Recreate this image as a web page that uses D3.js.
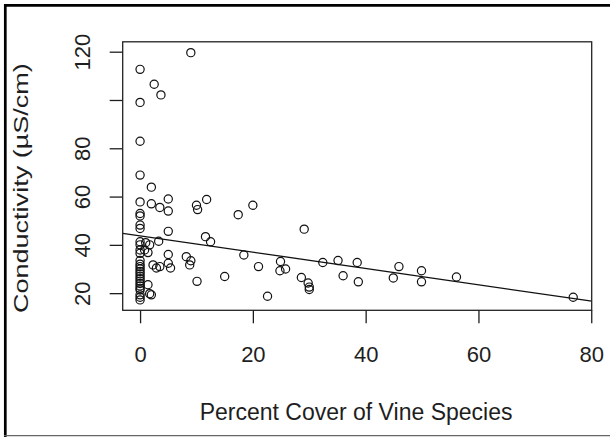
<!DOCTYPE html>
<html>
<head>
<meta charset="utf-8">
<script src="https://cdn.jsdelivr.net/npm/d3@7"></script>
<style>
	body { margin: 0; background: #fff; }
	figure { margin: 0; }
	text { font-family: "Liberation Sans", Arial, sans-serif; fill: #1e1e1e; }
</style>
</head>
<body>
<figure id="vines"></figure>
<script>
// percent cover of vines (x) and conductivity (y)
var vineCover = [
	0, 0, 0, 0, 0, 0, 0, 0, 0, 0, 0, 0, 0, 0,
	0, 0, 0, 0, 0, 0, 0, 0, 0, 0, 0, 0, 0, 0, 0,
	2.5, 3.7, 9, 2, 2, 3.5, 5, 5, 10, 10.2, 11.8, 17.4, 20,
	5, 1, 1.7, 3.3, 0.8, 1.4, 5, 2.3, 2.9, 3.5, 5, 5.4,
	8.2, 9, 8.8, 1.4, 1.7, 2, 10.1, 11.6, 12.5, 15, 18.4, 21, 22.6,
	24.9, 24.8, 25.8, 28.6, 29.8, 30, 30, 29.1,
	32.4, 35.1, 36, 38.5, 38.7, 44.9, 45.9, 49.9, 49.9, 56.1, 76.8
];
var conductivity = [
	112.7, 99, 82.9, 68.9, 57.8, 53, 52, 48.2, 46.8, 41.3, 40, 37.9, 36.5, 33.5,
	32, 31, 30, 29, 28, 27, 26, 25, 24, 23, 22, 21.3, 19.3, 18.3, 17.2,
	106.5, 102.1, 119.6, 63.9, 57, 55.5, 54, 59, 56.4, 54.6, 58.8, 52.5, 56.4,
	45.6, 40.9, 40, 41.5, 37.9, 36.8, 36, 31.7, 30.4, 31, 32.4, 30.4,
	35.1, 33.4, 31.7, 23.5, 19.8, 19.3, 24.9, 43.4, 41.3, 26.9, 35.8, 31, 18.7,
	33.1, 29.3, 30, 26.5, 24.2, 22.5, 21.5, 46.5,
	32.7, 33.5, 27.2, 32.7, 24.7, 26.3, 31, 29.3, 24.7, 26.7, 18.3
];
var xTicks = [ 0, 20, 40, 60, 80 ];
var yTicks = [ 20, 40, 60, 80, 100, 120 ];
var yTickLabels = [ "20", "40", "60", "80", "", "120" ]; // 100 gets dropped, like R does
var fitLine = [ 43.75, -0.338 ]; // intercept, slope of the straight line fit

var dimensions = {
	width: 610,
	height: 437,
	margin: {
		top: 41.8,
		right: 18.3,
		bottom: 126.7,
		left: 122.7
	}
};
dimensions.boundedWidth = dimensions.width - dimensions.margin.left - dimensions.margin.right;
dimensions.boundedHeight = dimensions.height - dimensions.margin.top - dimensions.margin.bottom;

var svg = d3.select( "figure#vines" )
	.append( "svg" )
	.attr( "width", dimensions.width )
	.attr( "height", dimensions.height );

// outer frame of the picture: heavy on left and top, thin grey at the bottom
svg.append( "line" )
	.attr( "x1", 5.3 ).attr( "x2", 5.3 ).attr( "y1", 4 ).attr( "y2", 437 )
	.attr( "stroke", "#000" ).attr( "stroke-width", 2.7 );
svg.append( "line" )
	.attr( "x1", 4 ).attr( "x2", 610 ).attr( "y1", 5.3 ).attr( "y2", 5.3 )
	.attr( "stroke", "#000" ).attr( "stroke-width", 2.7 );
svg.append( "line" )
	.attr( "x1", 4 ).attr( "x2", 610 ).attr( "y1", 435.6 ).attr( "y2", 435.6 )
	.attr( "stroke", "#666" ).attr( "stroke-width", 1.3 );

var chart = svg.append( "g" )
	.attr( "transform", `translate(${dimensions.margin.left},${dimensions.margin.top})` );

// R pads the data range by 4% on each side
var xScale = d3.scaleLinear()
	.domain( [ -3.08, 80.08 ] )
	.range( [ 0, dimensions.boundedWidth ] );

var yScale = d3.scaleLinear()
	.domain( [ 12.9, 124.1 ] )
	.range( [ dimensions.boundedHeight, 0 ] );

chart.append( "clipPath" )
	.attr( "id", "plot-clip" )
	.append( "rect" )
	.attr( "width", dimensions.boundedWidth )
	.attr( "height", dimensions.boundedHeight );

// x axis
var xAxis = chart.append( "g" )
	.attr( "transform", `translate(0,${dimensions.boundedHeight})` )
	.call( d3.axisBottom( xScale )
		.tickValues( xTicks )
		.tickSize( 13 )
		.tickPadding( 23 ) )
	.call( g => g.select( ".domain" ).remove() );

xAxis.selectAll( "line" ).attr( "stroke", "#1e1e1e" ).attr( "stroke-width", 1.3 );
xAxis.selectAll( "text" )
	.style( "font-size", "22px" )
	.style( "font-family", "'Liberation Sans', Arial, sans-serif" )
	.style( "fill", "#1e1e1e" );

// y axis, labels turned sideways
var yAxis = chart.append( "g" )
	.call( d3.axisLeft( yScale )
		.tickValues( yTicks )
		.tickSize( 13 )
		.tickFormat( ( d, i ) => yTickLabels[ i ] ) )
	.call( g => g.select( ".domain" ).remove() );

yAxis.selectAll( "line" ).attr( "stroke", "#1e1e1e" ).attr( "stroke-width", 1.3 );
yAxis.selectAll( "text" )
	.attr( "transform", "rotate(-90)" )
	.attr( "x", 0 )
	.attr( "y", -32.7 )
	.attr( "dy", 0 )
	.attr( "text-anchor", "middle" )
	.style( "font-size", "22px" )
	.style( "font-family", "'Liberation Sans', Arial, sans-serif" )
	.style( "fill", "#1e1e1e" );

// axis titles
chart.append( "text" )
	.attr( "x", xScale( 38.3 ) )
	.attr( "y", dimensions.boundedHeight + 110 )
	.attr( "text-anchor", "middle" )
	.style( "font-size", "23px" )
	.text( "Percent Cover of Vine Species" );

chart.append( "text" )
	.attr( "transform", `translate(${28 - dimensions.margin.left},${yScale( 63.5 )}) rotate(-90)` )
	.attr( "text-anchor", "middle" )
	.attr( "textLength", 250 )
	.attr( "lengthAdjust", "spacingAndGlyphs" )
	.style( "font-size", "21px" )
	.text( "Conductivity (\u00b5S/cm)" );

// fitted line, clipped to the plot box
chart.append( "line" )
	.attr( "clip-path", "url(#plot-clip)" )
	.attr( "x1", xScale( xScale.domain()[ 0 ] ) )
	.attr( "x2", xScale( xScale.domain()[ 1 ] ) )
	.attr( "y1", yScale( fitLine[ 0 ] + fitLine[ 1 ] * xScale.domain()[ 0 ] ) )
	.attr( "y2", yScale( fitLine[ 0 ] + fitLine[ 1 ] * xScale.domain()[ 1 ] ) )
	.attr( "stroke", "#111" )
	.attr( "stroke-width", 1.3 );

// open circles
chart.selectAll( "circle" )
	.data( d3.range( vineCover.length ) )
	.enter()
	.append( "circle" )
	.attr( "cx", i => xScale( vineCover[ i ] ) )
	.attr( "cy", i => yScale( conductivity[ i ] ) )
	.attr( "r", 4.1 )
	.attr( "fill", "none" )
	.attr( "stroke", "#111" )
	.attr( "stroke-width", 1.2 );

// plot box
chart.append( "rect" )
	.attr( "width", dimensions.boundedWidth )
	.attr( "height", dimensions.boundedHeight )
	.attr( "fill", "none" )
	.attr( "stroke", "#222" )
	.attr( "stroke-width", 1.3 );
</script>
</body>
</html>
